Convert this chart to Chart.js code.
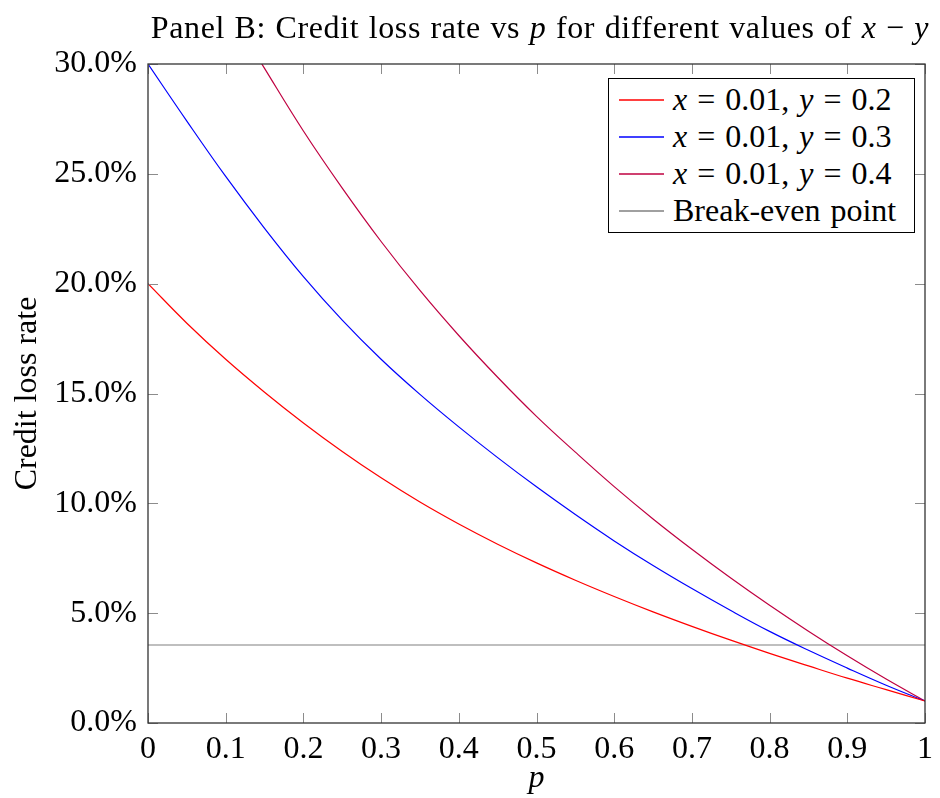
<!DOCTYPE html>
<html>
<head>
<meta charset="utf-8">
<script src="https://cdn.jsdelivr.net/npm/chart.js@4.4.0/dist/chart.umd.min.js"></script>
<style>
  body { margin: 0; background: #fff; }
  #wrap { position: relative; width: 940px; height: 798px; font-family: "Liberation Serif", serif; color: #000; }
  #title { position: absolute; left: 140px; width: 800px; top: 8px; text-align: center; font-size: 32px; line-height: 38px; white-space: nowrap; letter-spacing: 0.6px; word-spacing: 1px; }
  #legend { position: absolute; left: 608px; top: 78px; width: 307px; height: 155px; border: 1px solid #000; background: #fff; font-size: 32px; padding-top: 2px; box-sizing: border-box; }
  .row { position: relative; height: 37px; line-height: 37px; white-space: nowrap; word-spacing: 2px; padding-left: 64px; }
  .swatch { position: absolute; left: 10px; top: 18px; width: 45px; height: 2px; opacity: 0.75; }
</style>
</head>
<body>
<div id="wrap">
  <canvas id="lossChart" width="940" height="798"></canvas>
  <div id="title">Panel B: Credit loss rate vs <i>p</i> for different values of <i>x</i> &minus; <i>y</i></div>
  <div id="legend"></div>
</div>
<script>
// p values along the x axis
const pValues = [0, 0.05, 0.1, 0.15, 0.2, 0.25, 0.3, 0.35, 0.4, 0.45, 0.5, 0.55, 0.6, 0.65, 0.7, 0.75, 0.8, 0.85, 0.9, 0.95, 1];

// credit loss rate (%), x = 0.01
const lossY02 = [20.0, 18.2, 16.56, 15.06, 13.66, 12.36, 11.16, 10.06, 9.06, 8.14, 7.29, 6.5, 5.76, 5.06, 4.4, 3.77, 3.17, 2.6, 2.04, 1.52, 1.0];
const lossY03 = [30.0, 27.4, 24.88, 22.52, 20.32, 18.34, 16.56, 14.96, 13.48, 12.08, 10.75, 9.49, 8.29, 7.17, 6.12, 5.12, 4.17, 3.31, 2.5, 1.72, 1.0];
const lossY04 = [null, null, 32.7, 29.8, 26.95, 24.35, 21.92, 19.69, 17.64, 15.74, 13.96, 12.33, 10.76, 9.29, 7.91, 6.6, 5.36, 4.18, 3.06, 2.0, 1.0];

const xValue = 0.01;
const yValues = [0.2, 0.3, 0.4];
const breakEven = 3.55;

const yTicks = [0, 5, 10, 15, 20, 25, 30];
const xTicks = [0, 0.1, 0.2, 0.3, 0.4, 0.5, 0.6, 0.7, 0.8, 0.9, 1];

const colors = ['rgb(255,0,0)', 'rgb(0,0,255)', 'rgb(191,0,64)'];
const grayColor = 'rgb(128,128,128)';

function toPoints(vals) {
  return pValues.map((p, i) => ({ x: p, y: vals[i] }));
}

const serif = '"Liberation Serif", serif';

// frame + inward tick marks, pgfplots style
const frameTicks = {
  id: 'frameTicks',
  afterDatasetsDraw(chart) {
    const { ctx, chartArea: a, scales: { x, y } } = chart;
    ctx.save();
    ctx.strokeStyle = '#8c8c8c';
    ctx.lineWidth = 1;
    ctx.beginPath();
    xTicks.forEach(v => {
      const px = Math.round(x.getPixelForValue(v)) + 0.5;
      ctx.moveTo(px, a.bottom); ctx.lineTo(px, a.bottom - 10);
      ctx.moveTo(px, a.top); ctx.lineTo(px, a.top + 10);
    });
    yTicks.forEach(v => {
      const py = Math.round(y.getPixelForValue(v)) + 0.5;
      ctx.moveTo(a.left, py); ctx.lineTo(a.left + 10, py);
      ctx.moveTo(a.right, py); ctx.lineTo(a.right - 10, py);
    });
    ctx.stroke();
    ctx.strokeStyle = '#333';
    ctx.lineWidth = 1.3;
    ctx.strokeRect(a.left, a.top, a.right - a.left, a.bottom - a.top);
    ctx.restore();
  }
};

const ctx = document.getElementById('lossChart').getContext('2d');
const lossChart = new Chart(ctx, {
  type: 'line',
  data: {
    datasets: [
      { label: 'x = 0.01, y = 0.2', data: toPoints(lossY02), borderColor: colors[0] },
      { label: 'x = 0.01, y = 0.3', data: toPoints(lossY03), borderColor: colors[1] },
      { label: 'x = 0.01, y = 0.4', data: toPoints(lossY04), borderColor: colors[2] },
      { label: 'Break-even point', data: [{ x: 0, y: breakEven }, { x: 1, y: breakEven }], borderColor: grayColor }
    ]
  },
  options: {
    responsive: false,
    animation: false,
    layout: { padding: { top: 64, right: 9, left: 0, bottom: 0 } },
    elements: {
      point: { radius: 0 },
      line: { borderWidth: 1.2, tension: 0.4, fill: false }
    },
    plugins: {
      legend: { display: false },
      tooltip: { enabled: false }
    },
    scales: {
      x: {
        type: 'linear',
        min: 0,
        max: 1,
        afterFit: s => { s.height = 75; },
        afterBuildTicks: s => { s.ticks = xTicks.map(v => ({ value: v })); },
        grid: { display: false, drawTicks: false },
        border: { display: false },
        ticks: {
          padding: 7,
          color: '#000',
          font: { family: serif, size: 32 },
          callback: v => (v === 0 || v === 1) ? String(v) : v.toFixed(1)
        },
        title: { display: true, text: 'p', color: '#000', padding: { top: 0, bottom: 0 }, font: { family: serif, size: 32, style: 'italic' } }
      },
      y: {
        min: 0,
        max: 30,
        afterFit: s => { s.width = 148; },
        afterBuildTicks: s => { s.ticks = yTicks.map(v => ({ value: v })); },
        grid: { display: false, drawTicks: false },
        border: { display: false },
        ticks: {
          padding: 11,
          color: '#000',
          font: { family: serif, size: 32 },
          callback: v => v.toFixed(1) + '%'
        },
        title: { display: true, text: 'Credit loss rate', color: '#000', padding: { top: 8, bottom: 0 }, font: { family: serif, size: 32 } }
      }
    }
  },
  plugins: [frameTicks]
});

// legend box in the top right corner, built from the datasets
const legendEl = document.getElementById('legend');
lossChart.data.datasets.forEach((ds, i) => {
  const row = document.createElement('div');
  row.className = 'row';
  const sw = document.createElement('span');
  sw.className = 'swatch';
  sw.style.backgroundColor = ds.borderColor;
  row.appendChild(sw);
  const txt = document.createElement('span');
  if (i < yValues.length) {
    txt.innerHTML = '<i>x</i> = ' + xValue + ', <i>y</i> = ' + yValues[i];
  } else {
    txt.textContent = ds.label;
  }
  row.appendChild(txt);
  legendEl.appendChild(row);
});
</script>
</body>
</html>
